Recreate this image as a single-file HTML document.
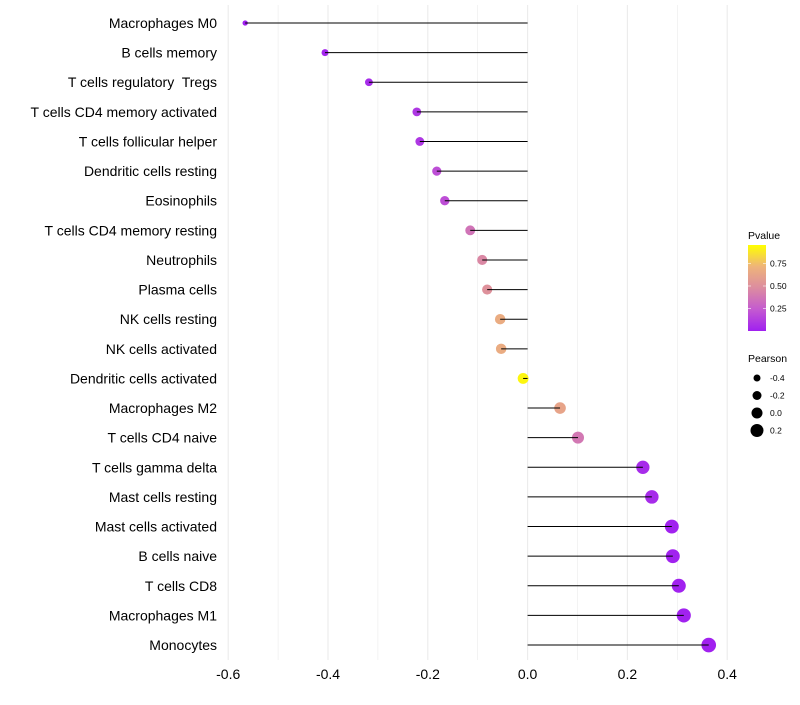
<!DOCTYPE html>
<html><head><meta charset="utf-8"><style>
body{margin:0;background:#fff;font-family:"Liberation Sans",sans-serif}
svg text{font-family:"Liberation Sans",sans-serif;white-space:pre}
</style></head><body>
<svg id="chart" width="800" height="700"></svg>
<script>
const categories=["Macrophages M0","B cells memory","T cells regulatory  Tregs","T cells CD4 memory activated","T cells follicular helper","Dendritic cells resting","Eosinophils","T cells CD4 memory resting","Neutrophils","Plasma cells","NK cells resting","NK cells activated","Dendritic cells activated","Macrophages M2","T cells CD4 naive","T cells gamma delta","Mast cells resting","Mast cells activated","B cells naive","T cells CD8","Macrophages M1","Monocytes"];
const pearson=[-0.566,-0.406,-0.318,-0.222,-0.216,-0.182,-0.166,-0.115,-0.091,-0.081,-0.055,-0.053,-0.009,0.065,0.101,0.231,0.249,0.289,0.291,0.303,0.313,0.363];
const pvalue=[0.0,0.02,0.05,0.1,0.1,0.2,0.2,0.38,0.48,0.53,0.7,0.7,0.97,0.65,0.4,0.05,0.05,0.01,0.01,0.01,0.01,0.005];
const xTicks=[-0.6,-0.4,-0.2,0.0,0.2,0.4];
const xTickLabels=["-0.6","-0.4","-0.2","0.0","0.2","0.4"];
const pTicks=[0.25,0.5,0.75];
const pTickLabels=["0.25","0.50","0.75"];
const sizeLegend=[-0.4,-0.2,0.0,0.2];
const sizeLegendLabels=["-0.4","-0.2","0.0","0.2"];

const NS="http://www.w3.org/2000/svg";
const svg=document.getElementById('chart');
function x(v){return 527.6+v*499;}
function y(i){return 23+i*29.62;}
function rad(v){return 5.5+5*v;}
const stops=[[0,[160,32,240]],[0.25,[196,90,208]],[0.5,[220,140,160]],[0.75,[238,180,122]],[1,[255,255,0]]];
function col(p){p=Math.max(0,Math.min(1,p));for(let k=1;k<stops.length;k++){if(p<=stops[k][0]){const a=stops[k-1],b=stops[k],t=(p-a[0])/(b[0]-a[0]);const c=a[1].map((q,j)=>Math.round(q+(b[1][j]-q)*t));return `rgb(${c})`;}}return 'rgb(255,255,0)';}
function mk(tag,at,parent){const e=document.createElementNS(NS,tag);for(const k in at)e.setAttribute(k,at[k]);(parent||svg).appendChild(e);return e;}

for(let v=-0.6;v<=0.45;v+=0.1){
  const g=mk('line',{x1:x(v),x2:x(v),y1:5,y2:660,stroke:'#ebebeb','stroke-width':Math.abs(Math.round(v*10))%2===0?1.1:0.6});
  
  
}
xTicks.forEach((v,i)=>{
  const t=mk('text',{x:x(v),y:679,'text-anchor':'middle','font-size':14,fill:'#000'});
  t.textContent=xTickLabels[i];
  
  
});
categories.forEach((c,i)=>{
  const t=mk('text',{x:217,y:y(i)+5,'text-anchor':'end','font-size':14,fill:'#000'});
  t.textContent=c;
  
  
  const d=mk('circle',{cx:x(pearson[i]),cy:y(i),r:rad(pearson[i]),fill:col(pvalue[i])});
  
  
  const l=mk('line',{x1:x(0),x2:x(pearson[i]),y1:y(i),y2:y(i),stroke:'#000','stroke-width':1});
  
  
});
const defs=mk('defs',{});
const lg=mk('linearGradient',{id:'pg',x1:0,y1:1,x2:0,y2:0},defs);
stops.forEach(s=>mk('stop',{offset:s[0],'stop-color':`rgb(${s[1]})`},lg));
const lt=mk('text',{x:748,y:239,'font-size':10.5});lt.textContent='Pvalue';


const cb=mk('rect',{x:748,y:245,width:18,height:86,fill:'url(#pg)'});


pTicks.forEach((p,i)=>{
  const yy=331-p*90;
  mk('line',{x1:748,x2:751,y1:yy,y2:yy,stroke:'#fff','stroke-width':0.6});
  mk('line',{x1:763,x2:766,y1:yy,y2:yy,stroke:'#fff','stroke-width':0.6});
  const t=mk('text',{x:770,y:yy+3,'font-size':8.5});t.textContent=pTickLabels[i];
  
  
});
const st=mk('text',{x:748,y:362,'font-size':10.5});st.textContent='Pearson';


sizeLegend.forEach((v,i)=>{
  const yy=378+i*17.5;
  const c=mk('circle',{cx:757,cy:yy,r:rad(v),fill:'#000'});
  
  
  const t=mk('text',{x:770,y:yy+3,'font-size':8.5});t.textContent=sizeLegendLabels[i];
  
  
});
</script>
</body></html>
